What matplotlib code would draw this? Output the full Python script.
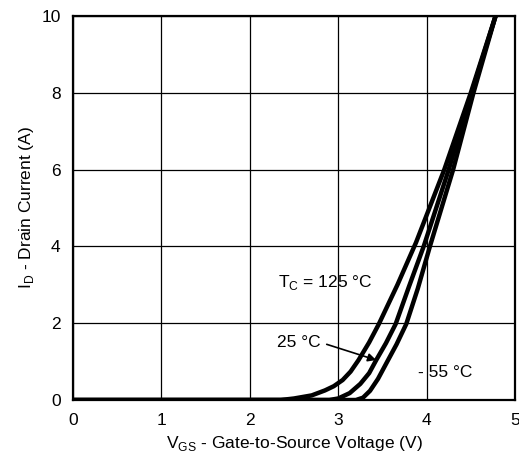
import numpy as np
import matplotlib.pyplot as plt

plt.rcParams['font.family'] = ['Liberation Sans', 'DejaVu Sans']

# transfer characteristics
vgs_125 = [0, 2.35, 2.5, 2.7, 2.85, 2.95, 3.05, 3.14, 3.23, 3.35, 3.46, 3.67, 3.88, 4.20, 4.50, 4.78]
id_125 = [0, 0, 0.04, 0.12, 0.25, 0.36, 0.52, 0.74, 1.04, 1.5, 1.98, 3.0, 4.1, 6.0, 8.0, 10.0]

vgs_25 = [0, 2.9, 3.0, 3.13, 3.25, 3.35, 3.43, 3.54, 3.65, 3.8, 3.97, 4.25, 4.51, 4.78]
id_25 = [0, 0, 0.04, 0.18, 0.42, 0.7, 1.04, 1.48, 1.98, 2.95, 4.02, 6.0, 8.0, 10.0]

vgs_m55 = [0, 3.2, 3.28, 3.36, 3.45, 3.55, 3.66, 3.77, 3.9, 4.04, 4.30, 4.53, 4.78]
id_m55 = [0, 0, 0.06, 0.24, 0.55, 0.98, 1.45, 1.98, 2.9, 4.02, 6.0, 8.0, 10.0]

x_ticks = [0, 1, 2, 3, 4, 5]
y_ticks = [0, 2, 4, 6, 8, 10]

fig = plt.figure(figsize=(5.19, 4.61), dpi=100)
ax = fig.add_axes([0.1407, 0.1323, 0.8516, 0.833])

for v, i in [(vgs_125, id_125), (vgs_25, id_25), (vgs_m55, id_m55)]:
    ax.plot(v, i, color='black', lw=3.2, solid_capstyle='butt', solid_joinstyle='round', zorder=3)

ax.set_xlim(0, 5)
ax.set_ylim(0, 10)
ax.set_xticks(x_ticks)
ax.set_yticks(y_ticks)
ax.set_axisbelow(True)
ax.grid(True, color='black', lw=0.9)
ax.tick_params(length=0, pad=9, labelsize=12.5)
for s in ax.spines.values():
    s.set_linewidth(1.6)
    s.set_zorder(4)

ax.set_xlabel('V$_{\\mathregular{GS}}$ - Gate-to-Source Voltage (V)', fontsize=12.5, labelpad=5)
ax.set_ylabel('I$_{\\mathregular{D}}$ - Drain Current (A)', fontsize=12.5, labelpad=4)

ax.text(2.32, 3.05, 'T$_{\\mathregular{C}}$ = 125 °C', fontsize=12.5, va='center')
ax.text(2.31, 1.5, '25 °C', fontsize=12.5, va='center')
ax.text(3.9, 0.72, '- 55 °C', fontsize=12.5, va='center')
ax.annotate('', xy=(3.43, 1.04), xytext=(2.87, 1.45),
            arrowprops=dict(arrowstyle='-|>', color='black', lw=1.2, mutation_scale=12,
                            shrinkA=0, shrinkB=0))

fig.savefig('out.png', dpi=100)
